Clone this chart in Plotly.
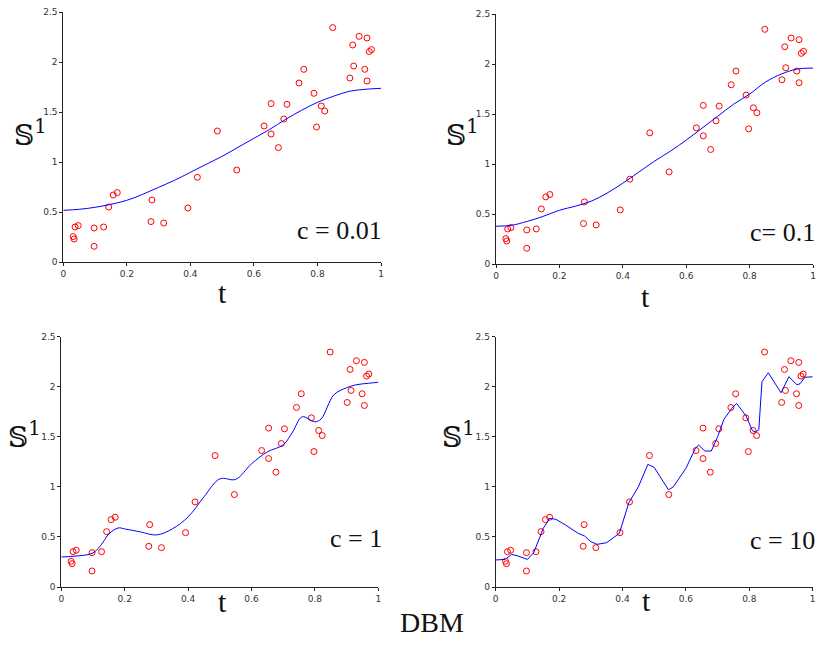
import plotly.graph_objects as go

# observed data points (same in all panels)
t_obs = [0.031, 0.034, 0.037, 0.047, 0.097, 0.097, 0.127, 0.143, 0.157, 0.170,
         0.276, 0.279, 0.316, 0.392, 0.422, 0.485, 0.546, 0.632, 0.654, 0.654,
         0.677, 0.694, 0.704, 0.742, 0.757, 0.789, 0.797, 0.812, 0.823, 0.848,
         0.902, 0.911, 0.914, 0.931, 0.949, 0.956, 0.956, 0.963, 0.970]
s_obs = [0.257, 0.233, 0.353, 0.367, 0.343, 0.160, 0.353, 0.553, 0.673, 0.697,
         0.407, 0.623, 0.393, 0.543, 0.850, 1.313, 0.923, 1.363, 1.587, 1.283,
         1.147, 1.433, 1.580, 1.793, 1.930, 1.690, 1.353, 1.563, 1.513, 2.347,
         1.843, 2.173, 1.963, 2.260, 1.930, 2.243, 1.813, 2.107, 2.127]

# fitted curves
t_c001 = [0, 0.05, 0.1, 0.15, 0.2, 0.25, 0.3, 0.35, 0.4, 0.45, 0.5, 0.55, 0.6, 0.65, 0.7, 0.75, 0.8, 0.85, 0.9, 0.95, 1.0]
s_c001 = [0.52, 0.53, 0.55, 0.58, 0.62, 0.68, 0.75, 0.82, 0.90, 0.98, 1.06, 1.15, 1.24, 1.33, 1.43, 1.52, 1.60, 1.66, 1.71, 1.73, 1.74]

t_c01 = [0, 0.05, 0.1, 0.15, 0.2, 0.25, 0.3, 0.35, 0.4, 0.45, 0.5, 0.55, 0.6, 0.65, 0.7, 0.75, 0.8, 0.85, 0.9, 0.95, 1.0]
s_c01 = [0.38, 0.39, 0.43, 0.48, 0.54, 0.58, 0.63, 0.71, 0.81, 0.92, 1.03, 1.13, 1.24, 1.36, 1.48, 1.60, 1.70, 1.82, 1.90, 1.95, 1.96]

t_c1 = [0, 0.05, 0.1, 0.13, 0.15, 0.18, 0.2, 0.25, 0.3, 0.35, 0.4, 0.45, 0.5, 0.55, 0.6, 0.65, 0.7, 0.73, 0.76, 0.8, 0.82, 0.86, 0.9, 0.93, 0.97, 1.0]
s_c1 = [0.30, 0.31, 0.34, 0.44, 0.53, 0.59, 0.58, 0.55, 0.52, 0.58, 0.70, 0.90, 1.08, 1.075, 1.23, 1.35, 1.42, 1.55, 1.70, 1.65, 1.68, 1.92, 1.99, 2.02, 2.035, 2.045]

t_c10 = [0, 0.03, 0.05, 0.07, 0.1, 0.12, 0.15, 0.17, 0.19, 0.22, 0.26, 0.28, 0.3, 0.32, 0.35, 0.39, 0.42, 0.45,
         0.48, 0.5, 0.545, 0.56, 0.6, 0.63, 0.64, 0.66, 0.68, 0.7, 0.72, 0.745, 0.76, 0.79, 0.81, 0.82, 0.83,
         0.84, 0.86, 0.9, 0.925, 0.95, 0.96, 0.975, 1.0]
s_c10 = [0.27, 0.276, 0.326, 0.31, 0.276, 0.343, 0.586, 0.686, 0.676, 0.62, 0.536, 0.51, 0.453, 0.426, 0.443, 0.536, 0.842, 1.0,
         1.225, 1.195, 0.97, 1.0, 1.185, 1.385, 1.418, 1.358, 1.358, 1.50, 1.675, 1.785, 1.834, 1.708, 1.56, 1.55, 1.57,
         2.05, 2.14, 1.94, 2.10, 2.02, 2.03, 2.094, 2.10]

c_labels = ["c = 0.01", "c= 0.1", "c = 1", "c = 10"]
x_ticks = [0, 0.2, 0.4, 0.6, 0.8, 1]
x_tick_text = ["0", "0.2", "0.4", "0.6", "0.8", "1"]
y_ticks = [0, 0.5, 1, 1.5, 2, 2.5]
y_tick_text = ["0", "0.5", "1", "1.5", "2", "2.5"]

W, H = 818, 660


def px(x):
    return x / W


def py(y):
    return 1 - y / H


# panel pixel boxes in page coords: (left, right, top, bottom)
boxes = [(63.3, 381, 12.3, 262.3), (496, 813, 14, 264.3), (61.3, 378.3, 336.7, 587), (495.7, 812.7, 336.7, 587)]
curves = [(t_c001, s_c001, "spline"), (t_c01, s_c01, "spline"), (t_c1, s_c1, "spline"), (t_c10, s_c10, "linear")]

fig = go.Figure()
serif = "Liberation Serif"
for i, ((l, r, tp, b), (tc, sc, shape)) in enumerate(zip(boxes, curves)):
    n = "" if i == 0 else str(i + 1)
    xa, ya = "x" + n, "y" + n
    fig.add_trace(go.Scatter(x=t_obs, y=s_obs, mode="markers", xaxis=xa, yaxis=ya, cliponaxis=False,
                             marker=dict(symbol="circle-open", size=6, color="#ff0000", line=dict(width=1)),
                             showlegend=False, hoverinfo="skip"))
    fig.add_trace(go.Scatter(x=tc, y=sc, mode="lines", xaxis=xa, yaxis=ya, line_shape=shape,
                             line=dict(color="#0000ff", width=1), showlegend=False, hoverinfo="skip"))
    axstyle = dict(showline=True, linecolor="#222", linewidth=1, ticks="outside", ticklen=3, tickcolor="#222",
                   showgrid=False, zeroline=False, automargin=False,
                   tickfont=dict(size=9, color="#333", family="DejaVu Sans"))
    fig.layout["xaxis" + n] = dict(domain=[px(l), px(r)], range=[0, 1], anchor=ya,
                                   tickvals=x_ticks, ticktext=x_tick_text, **axstyle)
    fig.layout["yaxis" + n] = dict(domain=[py(b), py(tp)], range=[0, 2.5], anchor=xa,
                                   tickvals=y_ticks, ticktext=y_tick_text, **axstyle)

anns = []
t_pos = [(216, 292), (652, 297), (216, 620), (653, 619)]
s_pos = [(12, 113), (444, 113), (6, 435), (440, 435)]
c_pos = [(384, 230), (817, 232), (384, 555), (817, 557)]
for i in range(4):
    anns.append(dict(x=px(t_pos[i][0]), y=py(t_pos[i][1]), xref="paper", yref="paper", text="t",
                     showarrow=False, font=dict(family=serif, size=30, color="#111")))
    anns.append(dict(x=px(s_pos[i][0]), y=py(s_pos[i][1]), xref="paper", yref="paper", xanchor="left",
                     text="𝕊<sup>1</sup>", showarrow=False, font=dict(family="DejaVu Serif", size=28, color="#111")))
    anns.append(dict(x=px(c_pos[i][0]), y=py(c_pos[i][1]), xref="paper", yref="paper", text=c_labels[i],
                     xanchor="right", showarrow=False, font=dict(family=serif, size=26, color="#111")))
anns.append(dict(x=px(432), y=py(640), xref="paper", yref="paper", text="DBM", showarrow=False,
                 font=dict(family=serif, size=28, color="#111")))

fig.update_layout(width=W, height=H, margin=dict(l=0, r=0, t=0, b=0), paper_bgcolor="white",
                  plot_bgcolor="white", annotations=anns)
fig.write_html("out.html", config={"displayModeBar": False},
               post_script="document.body.style.margin='0';document.body.style.padding='0';")
